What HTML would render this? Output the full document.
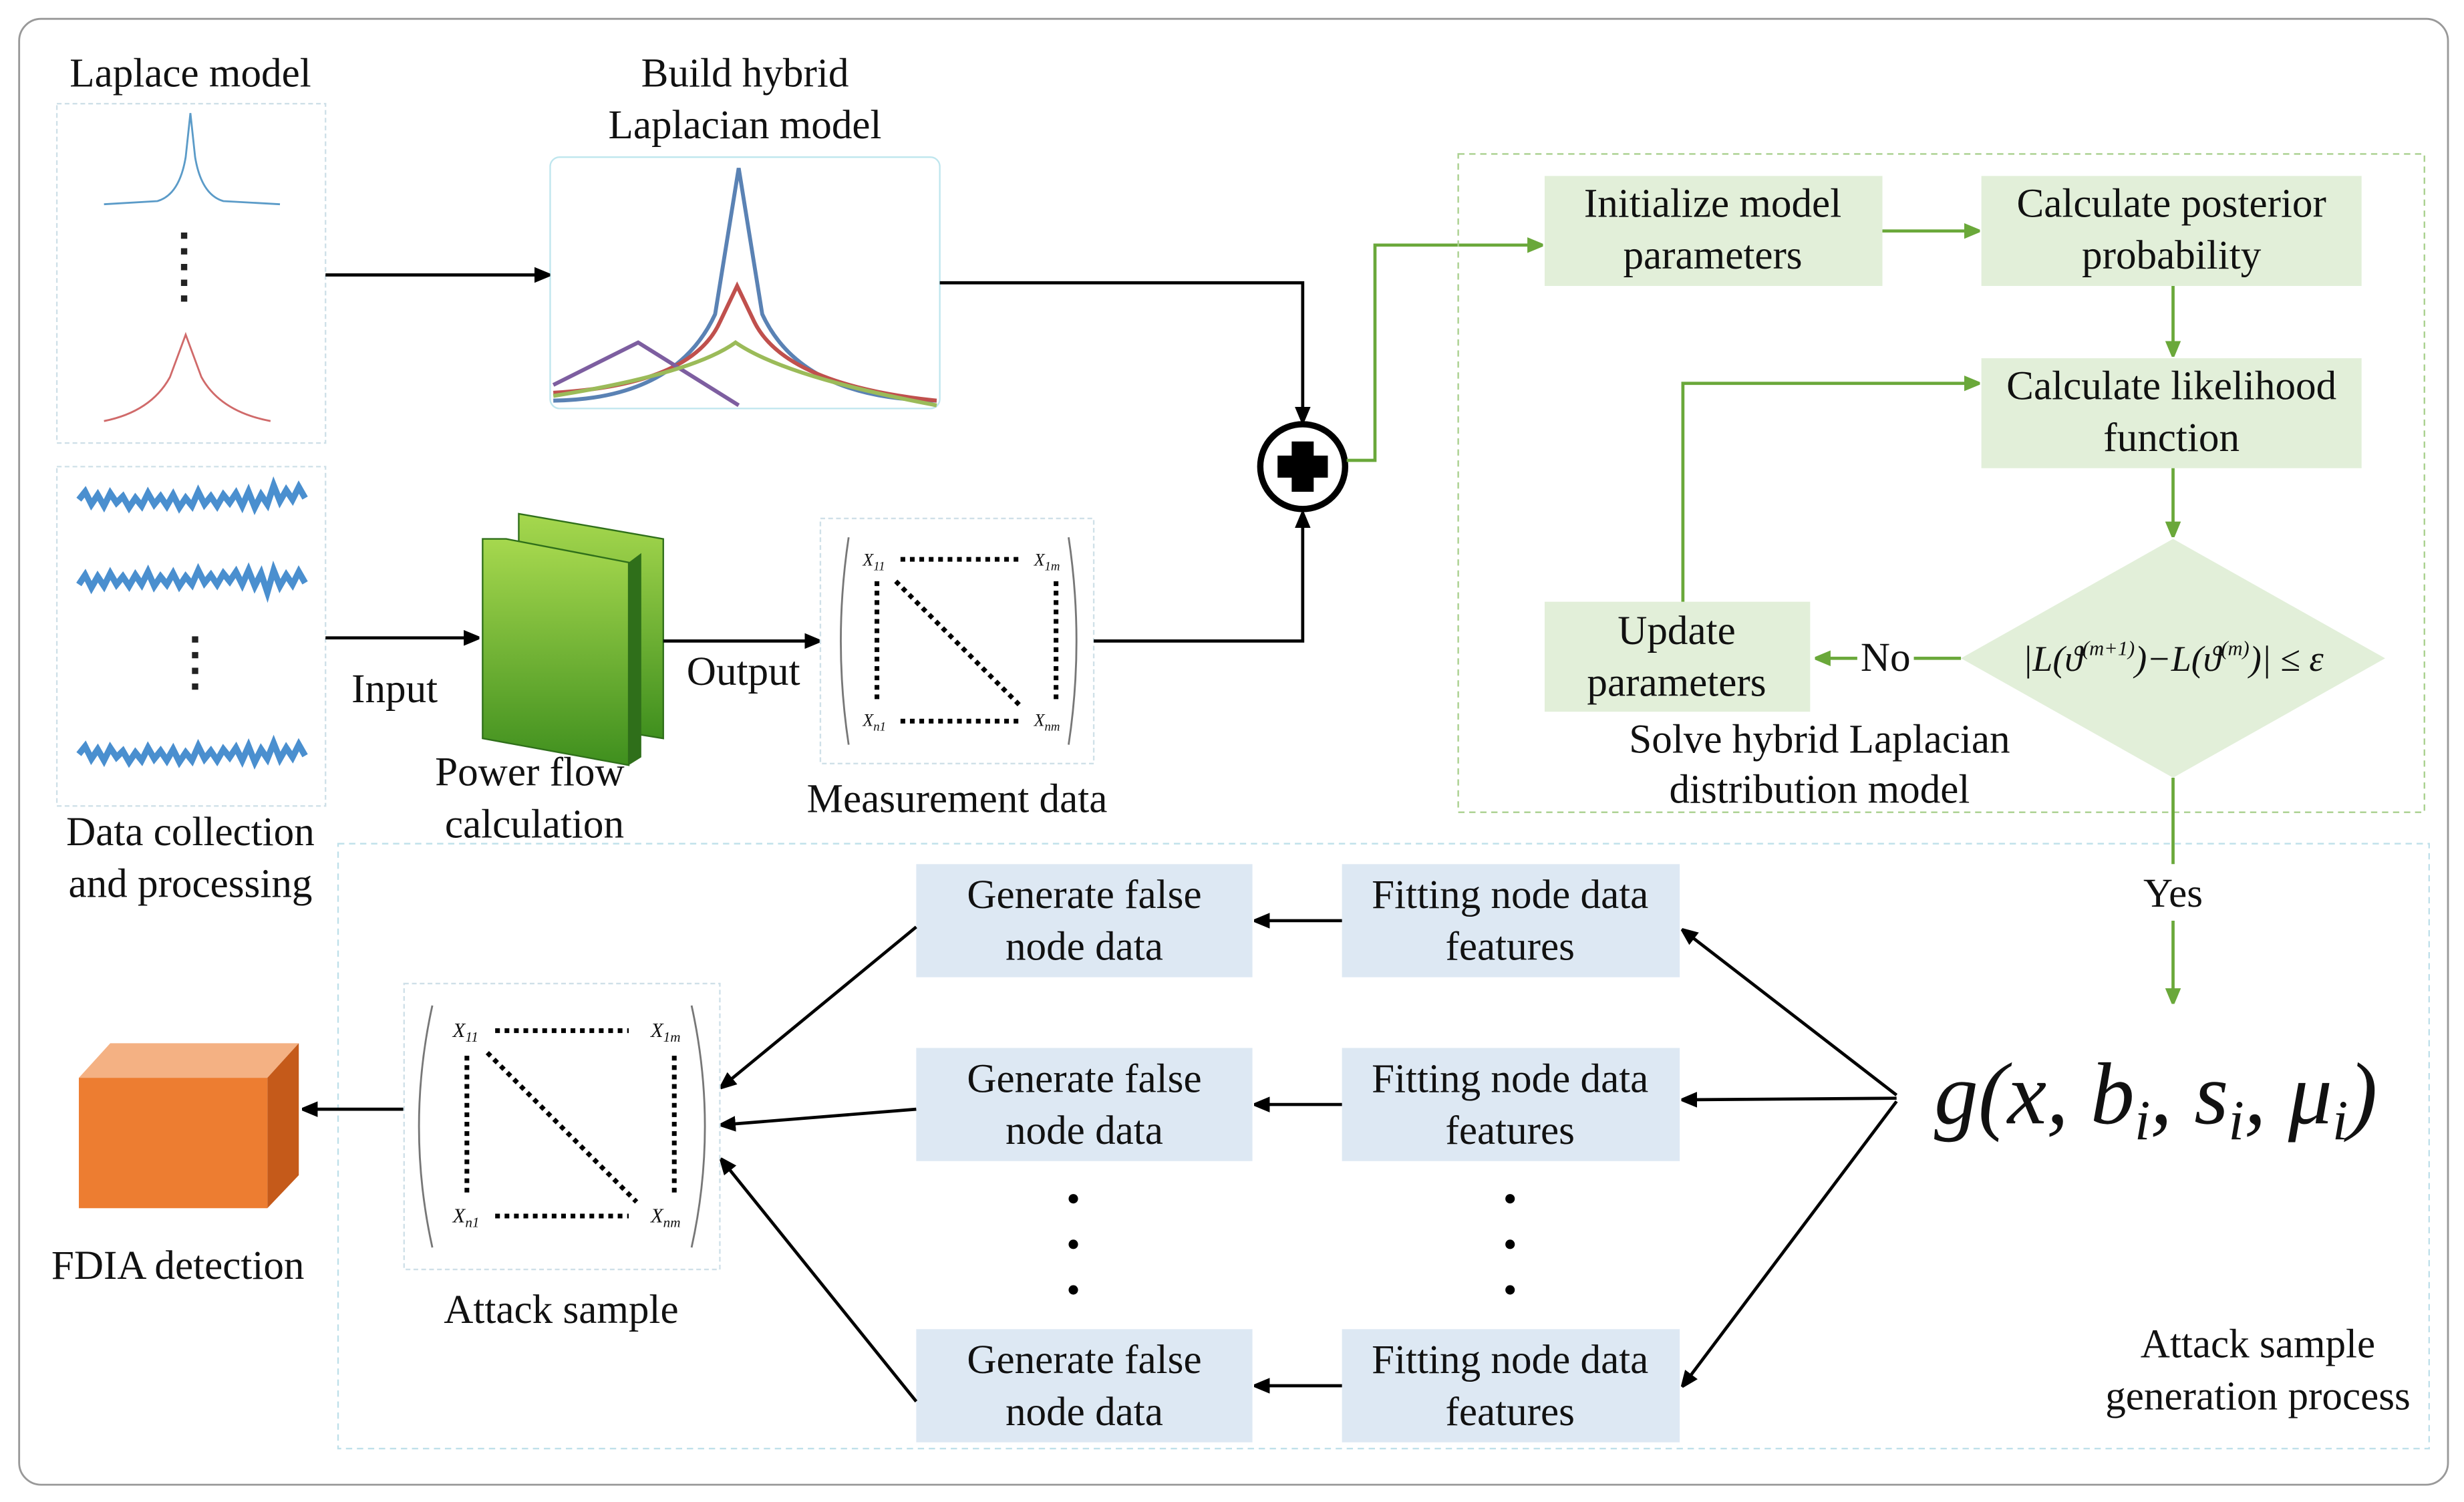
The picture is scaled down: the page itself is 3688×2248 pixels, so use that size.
<!DOCTYPE html>
<html><head><meta charset="utf-8">
<style>
html,body{margin:0;padding:0;background:#fff;}
svg{display:block;}
text{font-family:"Liberation Serif",serif;fill:#111;}
</style></head>
<body>
<svg width="3688" height="2248" viewBox="0 0 1568 956" xmlns="http://www.w3.org/2000/svg">
<defs>
<marker id="ak" markerWidth="10" markerHeight="10" refX="9" refY="5" orient="auto" markerUnits="userSpaceOnUse"><path d="M0,0 L12,5 L0,10 z" fill="#000"/></marker>
<marker id="ag" markerWidth="10" markerHeight="10" refX="9" refY="5" orient="auto" markerUnits="userSpaceOnUse"><path d="M0,0 L12,5 L0,10 z" fill="#6aa83a"/></marker>
<linearGradient id="gb" x1="0" y1="0" x2="0" y2="1"><stop offset="0" stop-color="#a6d84e"/><stop offset="1" stop-color="#3f8f1e"/></linearGradient>
</defs>
<rect x="12" y="12" width="1546" height="933" rx="14" fill="#fff" stroke="#999" stroke-width="1.2"/>

<text x="121" y="55" font-size="26" text-anchor="middle">Laplace model</text>
<rect x="36" y="66" width="171" height="216" fill="none" stroke="#cfe0e8" stroke-dasharray="3,2"/>
<path d="M66,130 L100,128 Q114,124 118,100 L121,72 L124,100 Q128,124 142,128 L178,130" fill="none" stroke="#5b9bc8" stroke-width="1.2"/>
<line x1="117" y1="148" x2="117" y2="194" stroke="#222" stroke-width="4" stroke-dasharray="4,6"/>
<path d="M66,268 Q96,262 108,240 L118,213 L128,240 Q140,262 172,268" fill="none" stroke="#d06a6a" stroke-width="1.2"/>

<rect x="36" y="297" width="171" height="216" fill="none" stroke="#cfe0e8" stroke-dasharray="3,2"/>
<path d="M50,318 l4,-5 l4,8 l4,-6 l4,7 l4,-8 l4,6 l4,-4 l4,7 l4,-6 l4,5 l4,-8 l4,7 l4,-5 l4,6 l4,-7 l4,8 l4,-6 l4,5 l4,-9 l4,8 l4,-5 l4,6 l4,-7 l4,5 l4,-6 l4,8 l4,-9 l4,10 l4,-8 l4,6 l4,-12 l4,10 l4,-7 l4,6 l4,-8 l4,7" fill="none" stroke="#4a8fcf" stroke-width="4"/>
<path d="M50,372 l4,-6 l4,8 l4,-7 l4,6 l4,-8 l4,7 l4,-5 l4,6 l4,-7 l4,6 l4,-8 l4,9 l4,-6 l4,5 l4,-7 l4,8 l4,-6 l4,5 l4,-9 l4,8 l4,-5 l4,6 l4,-7 l4,5 l4,-6 l4,8 l4,-9 l4,10 l4,-8 l4,12 l4,-14 l4,10 l4,-7 l4,6 l4,-8 l4,7" fill="none" stroke="#4a8fcf" stroke-width="4"/>
<line x1="124" y1="405" x2="124" y2="442" stroke="#222" stroke-width="4" stroke-dasharray="4,6"/>
<path d="M50,480 l4,-5 l4,8 l4,-6 l4,7 l4,-8 l4,6 l4,-4 l4,7 l4,-6 l4,5 l4,-8 l4,7 l4,-5 l4,6 l4,-7 l4,8 l4,-6 l4,5 l4,-9 l4,8 l4,-5 l4,6 l4,-7 l4,5 l4,-6 l4,8 l4,-9 l4,10 l4,-8 l4,6 l4,-10 l4,10 l4,-7 l4,6 l4,-8 l4,7" fill="none" stroke="#4a8fcf" stroke-width="4"/>
<text x="121" y="538" font-size="26" text-anchor="middle">Data collection</text>
<text x="121" y="571" font-size="26" text-anchor="middle">and processing</text>

<text x="474" y="55" font-size="26" text-anchor="middle">Build hybrid</text>
<text x="474" y="88" font-size="26" text-anchor="middle">Laplacian model</text>
<rect x="350" y="100" width="248" height="160" rx="6" fill="none" stroke="#bfe6ee"/>
<path d="M352,255 Q430,254 455,200 L470,107 L485,200 Q510,254 596,255" fill="none" stroke="#5a82b4" stroke-width="2.5"/>
<path d="M352,250 Q440,245 458,205 L469,182 L480,205 Q500,245 596,255" fill="none" stroke="#c0504d" stroke-width="2.5"/>
<path d="M352,245 L406,218 L470,258" fill="none" stroke="#7d5ea0" stroke-width="2.5"/>
<path d="M352,252 Q440,238 468,218 Q500,240 596,258" fill="none" stroke="#9bbb59" stroke-width="2.5"/>
<line x1="207" y1="175" x2="349" y2="175" stroke="#000" stroke-width="2" marker-end="url(#ak)"/>
<polyline points="598,180 829,180 829,268" fill="none" stroke="#000" stroke-width="2" marker-end="url(#ak)"/>

<circle cx="829" cy="297" r="27" fill="#fff" stroke="#000" stroke-width="4"/>
<path d="M822,281 h14 v9 h9 v14 h-9 v9 h-14 v-9 h-9 v-14 h9 z" fill="#000"/>

<line x1="207" y1="406" x2="304" y2="406" stroke="#000" stroke-width="2" marker-end="url(#ak)"/>
<text x="251" y="447" font-size="26" text-anchor="middle">Input</text>
<polygon points="330,327 422,343 422,470 330,455" fill="url(#gb)" stroke="#2f6f1a"/>
<polygon points="307,343 322,343 400,358 400,487 307,470" fill="url(#gb)" stroke="#2f6f1a"/>
<polygon points="400,358 408,352 408,482 400,487" fill="#2f6f1a"/>
<text x="337" y="500" font-size="26" text-anchor="middle">Power flow</text>
<text x="340" y="533" font-size="26" text-anchor="middle">calculation</text>
<line x1="422" y1="408" x2="521" y2="408" stroke="#000" stroke-width="2" marker-end="url(#ak)"/>
<text x="473" y="436" font-size="26" text-anchor="middle">Output</text>

<rect x="522" y="330" width="174" height="156" fill="none" stroke="#cfe0e8" stroke-dasharray="3,2"/>
<path d="M540,342 Q530,408 540,474 M680,342 Q690,408 680,474" fill="none" stroke="#777" stroke-width="1.2"/>
<text x="549" y="360" font-size="11" font-style="italic">X<tspan font-size="8" dy="3">11</tspan></text>
<text x="658" y="360" font-size="11" font-style="italic">X<tspan font-size="8" dy="3">1m</tspan></text>
<text x="549" y="462" font-size="11" font-style="italic">X<tspan font-size="8" dy="3">n1</tspan></text>
<text x="658" y="462" font-size="11" font-style="italic">X<tspan font-size="8" dy="3">nm</tspan></text>
<g stroke="#000" stroke-width="3" stroke-dasharray="3,3">
<line x1="573" y1="356" x2="648" y2="356"/><line x1="573" y1="459" x2="648" y2="459"/>
<line x1="558" y1="370" x2="558" y2="448"/><line x1="672" y1="370" x2="672" y2="448"/>
<line x1="570" y1="370" x2="650" y2="450"/></g>
<text x="609" y="517" font-size="26" text-anchor="middle">Measurement data</text>
<polyline points="696,408 829,408 829,327" fill="none" stroke="#000" stroke-width="2" marker-end="url(#ak)"/>

<polyline points="857,293 875,293 875,156 981,156" fill="none" stroke="#6aa83a" stroke-width="2" marker-end="url(#ag)"/>
<rect x="928" y="98" width="615" height="419" fill="none" stroke="#a9d08e" stroke-dasharray="4,3"/>
<g fill="#e2efd9">
<rect x="983" y="112" width="215" height="70"/>
<rect x="1261" y="112" width="242" height="70"/>
<rect x="1261" y="228" width="242" height="70"/>
<rect x="983" y="383" width="169" height="70"/>
<polygon points="1383,343 1518,419 1383,495 1248,419"/>
</g>
<text x="1090" y="138" font-size="26" text-anchor="middle">Initialize model</text>
<text x="1090" y="171" font-size="26" text-anchor="middle">parameters</text>
<text x="1382" y="138" font-size="26" text-anchor="middle">Calculate  posterior</text>
<text x="1382" y="171" font-size="26" text-anchor="middle">probability</text>
<text x="1382" y="254" font-size="26" text-anchor="middle">Calculate likelihood</text>
<text x="1382" y="287" font-size="26" text-anchor="middle">function</text>
<text x="1067" y="410" font-size="26" text-anchor="middle">Update</text>
<text x="1067" y="443" font-size="26" text-anchor="middle">parameters</text>
<text x="1383" y="427" font-size="23" font-style="italic" text-anchor="middle">|L(ϑ<tspan font-size="13" dy="-10">(m+1)</tspan><tspan dy="10">)−L(ϑ</tspan><tspan font-size="13" dy="-10">(m)</tspan><tspan dy="10">)| ≤ ε</tspan></text>
<line x1="1198" y1="147" x2="1259" y2="147" stroke="#6aa83a" stroke-width="2" marker-end="url(#ag)"/>
<line x1="1383" y1="182" x2="1383" y2="226" stroke="#6aa83a" stroke-width="2" marker-end="url(#ag)"/>
<line x1="1383" y1="298" x2="1383" y2="341" stroke="#6aa83a" stroke-width="2" marker-end="url(#ag)"/>
<line x1="1248" y1="419" x2="1218" y2="419" stroke="#6aa83a" stroke-width="2"/>
<line x1="1182" y1="419" x2="1156" y2="419" stroke="#6aa83a" stroke-width="2" marker-end="url(#ag)"/>
<text x="1200" y="427" font-size="26" text-anchor="middle">No</text>
<polyline points="1071,383 1071,244 1259,244" fill="none" stroke="#6aa83a" stroke-width="2" marker-end="url(#ag)"/>
<text x="1158" y="479" font-size="26" text-anchor="middle">Solve hybrid Laplacian</text>
<text x="1158" y="511" font-size="26" text-anchor="middle">distribution model</text>
<line x1="1383" y1="495" x2="1383" y2="550" stroke="#6aa83a" stroke-width="2"/>
<line x1="1383" y1="586" x2="1383" y2="638" stroke="#6aa83a" stroke-width="2" marker-end="url(#ag)"/>
<text x="1383" y="577" font-size="26" text-anchor="middle">Yes</text>

<rect x="215" y="537" width="1331" height="385" fill="none" stroke="#bfe0ea" stroke-dasharray="4,3"/>
<text x="1372" y="715" font-size="56" font-style="italic" text-anchor="middle">g(x, b<tspan font-size="36" dy="10">i</tspan><tspan dy="-10">, s</tspan><tspan font-size="36" dy="10">i</tspan><tspan dy="-10">, μ</tspan><tspan font-size="36" dy="10">i</tspan><tspan dy="-10">)</tspan></text>
<g fill="#dde8f3">
<rect x="583" y="550" width="214" height="72"/><rect x="854" y="550" width="215" height="72"/>
<rect x="583" y="667" width="214" height="72"/><rect x="854" y="667" width="215" height="72"/>
<rect x="583" y="846" width="214" height="72"/><rect x="854" y="846" width="215" height="72"/>
</g>
<g font-size="26" text-anchor="middle">
<text x="690" y="578">Generate false</text><text x="690" y="611">node data</text>
<text x="961" y="578">Fitting node data</text><text x="961" y="611">features</text>
<text x="690" y="695">Generate false</text><text x="690" y="728">node data</text>
<text x="961" y="695">Fitting node data</text><text x="961" y="728">features</text>
<text x="690" y="874">Generate false</text><text x="690" y="907">node data</text>
<text x="961" y="874">Fitting node data</text><text x="961" y="907">features</text>
</g>
<g fill="#000"><circle cx="683" cy="763" r="3"/><circle cx="683" cy="792" r="3"/><circle cx="683" cy="821" r="3"/>
<circle cx="961" cy="763" r="3"/><circle cx="961" cy="792" r="3"/><circle cx="961" cy="821" r="3"/></g>
<g stroke="#000" stroke-width="2" fill="none">
<line x1="854" y1="586" x2="799" y2="586" marker-end="url(#ak)"/>
<line x1="854" y1="703" x2="799" y2="703" marker-end="url(#ak)"/>
<line x1="854" y1="882" x2="799" y2="882" marker-end="url(#ak)"/>
<line x1="1207" y1="697" x2="1071" y2="592" marker-end="url(#ak)"/>
<line x1="1207" y1="699" x2="1071" y2="700" marker-end="url(#ak)"/>
<line x1="1207" y1="701" x2="1071" y2="882" marker-end="url(#ak)"/>
<line x1="583" y1="590" x2="459" y2="692" marker-end="url(#ak)"/>
<line x1="583" y1="706" x2="459" y2="716" marker-end="url(#ak)"/>
<line x1="583" y1="892" x2="459" y2="738" marker-end="url(#ak)"/>
<line x1="257" y1="706" x2="193" y2="706" marker-end="url(#ak)"/>
</g>

<rect x="257" y="626" width="201" height="182" fill="none" stroke="#cfe0e8" stroke-dasharray="3,2"/>
<path d="M275,640 Q258,717 275,794 M440,640 Q457,717 440,794" fill="none" stroke="#777" stroke-width="1.2"/>
<text x="288" y="660" font-size="13" font-style="italic">X<tspan font-size="9" dy="3">11</tspan></text>
<text x="414" y="660" font-size="13" font-style="italic">X<tspan font-size="9" dy="3">1m</tspan></text>
<text x="288" y="778" font-size="13" font-style="italic">X<tspan font-size="9" dy="3">n1</tspan></text>
<text x="414" y="778" font-size="13" font-style="italic">X<tspan font-size="9" dy="3">nm</tspan></text>
<g stroke="#000" stroke-width="3" stroke-dasharray="3,3">
<line x1="315" y1="656" x2="400" y2="656"/><line x1="315" y1="774" x2="400" y2="774"/>
<line x1="297" y1="672" x2="297" y2="760"/><line x1="429" y1="672" x2="429" y2="760"/>
<line x1="310" y1="670" x2="405" y2="765"/></g>
<text x="357" y="842" font-size="26" text-anchor="middle">Attack sample</text>

<polygon points="50,686 70,664 190,664 170,686" fill="#f4b183"/>
<polygon points="170,686 190,664 190,748 170,769" fill="#c55a1a"/>
<rect x="50" y="686" width="120" height="83" fill="#ed7d31"/>
<text x="113" y="814" font-size="26" text-anchor="middle">FDIA detection</text>

<text x="1437" y="864" font-size="26" text-anchor="middle">Attack sample</text>
<text x="1437" y="897" font-size="26" text-anchor="middle">generation process</text>
</svg>
</body></html>
